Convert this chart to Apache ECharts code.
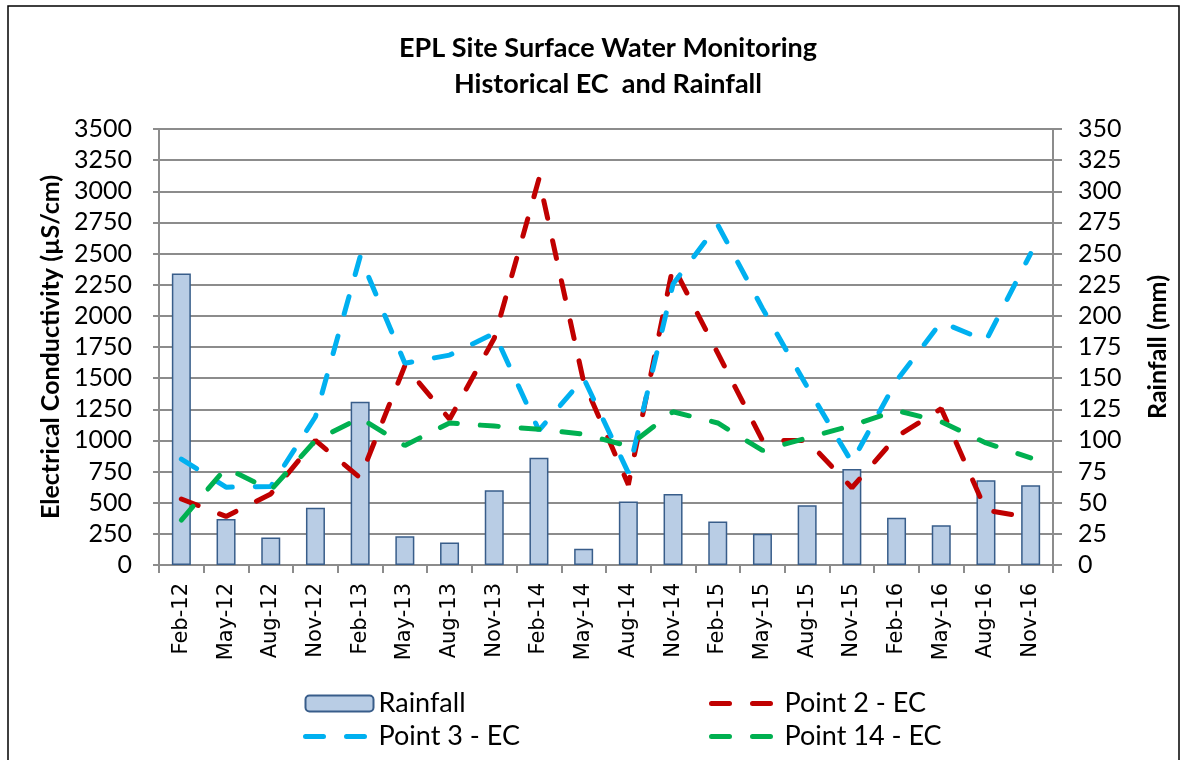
<!DOCTYPE html>
<html>
<head>
<meta charset="utf-8">
<script src="https://cdn.jsdelivr.net/npm/echarts@6/dist/echarts.min.js"></script>
<style>
  html, body { margin: 0; padding: 0; background: #fff; }
  #main { width: 1187px; height: 760px; }
</style>
</head>
<body>
<div id="main"></div>
<script>
var myChart = echarts.init(document.getElementById('main'));

var categories = ['Feb-12', 'May-12', 'Aug-12', 'Nov-12', 'Feb-13', 'May-13', 'Aug-13', 'Nov-13',
  'Feb-14', 'May-14', 'Aug-14', 'Nov-14', 'Feb-15', 'May-15', 'Aug-15', 'Nov-15',
  'Feb-16', 'May-16', 'Aug-16', 'Nov-16'];

// rainfall (mm), right axis
var rainfall = [234, 37, 22, 46, 131, 23, 18, 60, 86, 13, 51, 57, 35, 25, 48, 77, 38, 32, 68, 64];

// EC (uS/cm), left axis
var point2 = [530, 390, 570, 1000, 700, 1600, 1170, 1820, 3100, 1470, 645, 2400, 1700, 1000, 1000, 620, 1030, 1255, 440, 380];
var point3 = [850, 625, 630, 1190, 2475, 1620, 1685, 1860, 1080, 1500, 740, 2255, 2730, 2060, 1430, 825, 1480, 1950, 1800, 2500];
var point14 = [360, 780, 600, 1000, 1180, 960, 1140, 1115, 1090, 1050, 955, 1230, 1140, 920, 1020, 1120, 1240, 1150, 980, 860];

var colors = { 'Point 2 - EC': '#c00000', 'Point 3 - EC': '#00b0f0', 'Point 14 - EC': '#00b050' };

var font = 'Lato';
var gridColor = '#8c8c8c';
var dash = [18, 23];

function ecLine(name, data) {
  return {
    name: name,
    type: 'line',
    yAxisIndex: 0,
    data: data,
    symbol: 'none',
    silent: true,
    lineStyle: { color: colors[name], width: 5, type: dash, cap: 'round' },
    itemStyle: { color: colors[name] }
  };
}

// legend entry for a dashed line, no marker in the middle
function lineItem(name) {
  return {
    name: name,
    itemStyle: { opacity: 0 },
    lineStyle: { color: colors[name], width: 5, type: dash, cap: 'round' }
  };
}

var legendText = { fontFamily: font, fontSize: 27, color: '#000', lineHeight: 27 };

option = {
  animation: false,
  backgroundColor: '#fff',
  graphic: [{
    type: 'rect',
    shape: { x: 8, y: 6, width: 1171, height: 800 },
    style: { fill: 'none', stroke: '#000', lineWidth: 1.5 },
    silent: true
  }],
  title: {
    text: 'EPL Site Surface Water Monitoring\nHistorical EC  and Rainfall',
    left: 603,
    top: 25,
    textAlign: 'center',
    textStyle: { fontFamily: font, fontWeight: 'bold', fontSize: 27, lineHeight: 36, color: '#000' }
  },
  legend: [{
    orient: 'vertical',
    left: 298,
    top: 685,
    itemWidth: 68,
    itemHeight: 16,
    itemGap: 6,
    data: ['Rainfall', lineItem('Point 3 - EC')],
    textStyle: legendText
  }, {
    orient: 'vertical',
    left: 704,
    top: 685,
    itemWidth: 68,
    itemHeight: 16,
    itemGap: 6,
    data: [lineItem('Point 2 - EC'), lineItem('Point 14 - EC')],
    textStyle: legendText
  }],
  grid: { left: 159, right: 134, top: 129, bottom: 195 },
  xAxis: {
    type: 'category',
    data: categories,
    axisLine: { lineStyle: { color: gridColor, width: 2 } },
    axisTick: { show: true, length: 8, lineStyle: { color: gridColor, width: 2 } },
    axisLabel: { rotate: 90, interval: 0, margin: 18, fontFamily: 'DejaVu Sans', fontSize: 21, color: '#000' }
  },
  yAxis: [{
    type: 'value',
    min: 0,
    max: 3500,
    interval: 250,
    name: 'Electrical Conductivity (µS/cm)',
    nameLocation: 'middle',
    nameGap: 96,
    nameTextStyle: { fontFamily: font, fontWeight: 'bold', fontSize: 25, color: '#000' },
    axisLine: { show: true, lineStyle: { color: gridColor, width: 2 } },
    axisTick: { show: true, length: 6, lineStyle: { color: gridColor, width: 2 } },
    axisLabel: {
      margin: 27, fontFamily: font, fontSize: 25, color: '#000',
      formatter: function (v) { return String(v); }
    },
    splitLine: { show: true, lineStyle: { color: gridColor, width: 2 } }
  }, {
    type: 'value',
    min: 0,
    max: 350,
    interval: 25,
    position: 'right',
    name: 'Rainfall (mm)',
    nameLocation: 'middle',
    nameGap: 92,
    nameRotate: 90,
    nameTextStyle: { fontFamily: font, fontWeight: 'bold', fontSize: 25, color: '#000' },
    axisLine: { show: true, lineStyle: { color: gridColor, width: 2 } },
    axisTick: { show: true, length: 9, lineStyle: { color: gridColor, width: 2 } },
    axisLabel: { margin: 25, fontFamily: font, fontSize: 25, color: '#000' },
    splitLine: { show: false }
  }],
  series: [{
    name: 'Rainfall',
    type: 'bar',
    yAxisIndex: 1,
    barWidth: 19,
    data: rainfall,
    silent: true,
    itemStyle: { color: '#b9cde5', borderColor: '#385d8a', borderWidth: 1.5 }
  },
    ecLine('Point 2 - EC', point2),
    ecLine('Point 3 - EC', point3),
    ecLine('Point 14 - EC', point14)
  ]
};

myChart.setOption(option);
</script>
</body>
</html>
